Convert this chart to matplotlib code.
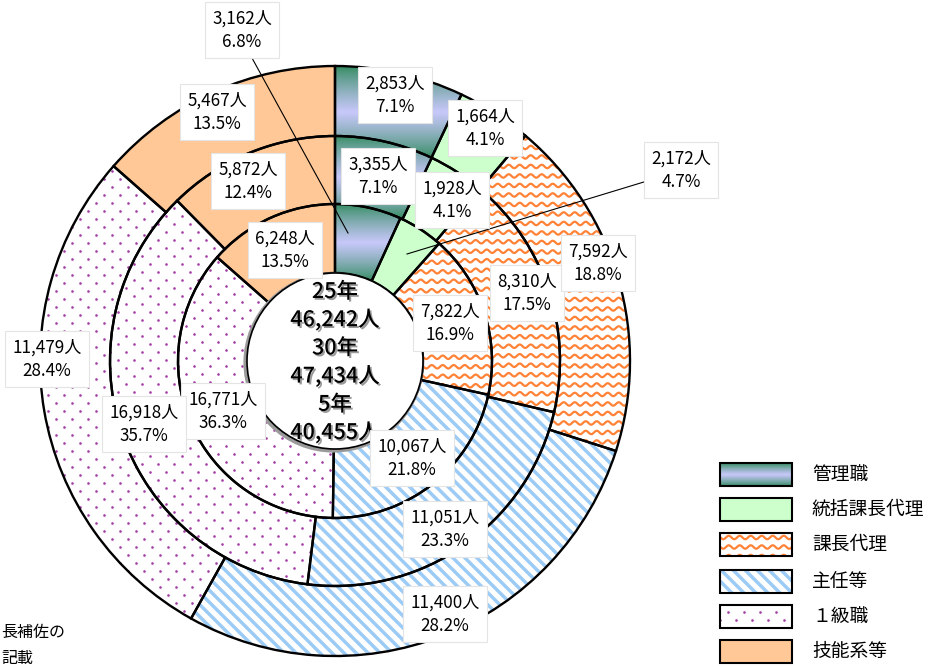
import numpy as np
import matplotlib
matplotlib.use('Agg')
import matplotlib.pyplot as plt
from matplotlib.patches import Rectangle, Circle
from matplotlib.collections import LineCollection
import matplotlib.patheffects as pe

plt.rcParams['font.family'] = ['Noto Sans CJK JP', 'DejaVu Sans']

# ---------------- data ----------------
categories = ['管理職', '統括課長代理', '課長代理', '主任等', '１級職', '技能系等']
years = ['25年', '30年', '5年']
values_h25 = [3162, 2172, 7822, 10067, 16771, 6248]   # inner ring
values_h30 = [3355, 1928, 8310, 11051, 16918, 5872]   # middle ring
values_r5 = [2853, 1664, 7592, 11400, 11479, 5467]    # outer ring
rings = [values_h25, values_h30, values_r5]
footnote = ['長補佐の', '記載']

# ---------------- layout ----------------
W, H = 933, 668
def Y(y):
    return H - y

cx, cy = 335, Y(361)
hole_r = 88
radii = [157, 225, 295]
inner_edges = [hole_r] + radii[:-1]

face_colors = ['#3b9468', '#ccffcc', 'white', 'white', 'white', '#ffc896']
GREEN = np.array([0x2f, 0x8a, 0x5c]) / 255.0
LAV = np.array([0xc8, 0xc8, 0xfa]) / 255.0

# label positions (image px, centre of the two-line block), per ring/category
label_pos = [
    [(242, 30), (681, 170), (450, 323), (412, 458), (223, 411), (285, 250)],
    [(378, 176), (452, 200), (527, 293), (445, 529), (144, 424), (248, 181)],
    [(395, 95), (485, 128), (598, 263), (445, 614), (47, 359), (217, 112)],
]
leaders = [((252, 58), (348, 233)), ((657, 178), (407, 254))]

fig = plt.figure(figsize=(W / 100, H / 100), dpi=100)
ax = fig.add_axes([0, 0, 1, 1])


def add_gradient(patch, x0, x1, y0, y1, z=1.5):
    n = 200
    t = np.linspace(0, 1, n)
    w = np.clip(1 - np.abs(t - 0.5) / 0.5, 0, 1) ** 0.8
    col = GREEN[None, :] * (1 - w[:, None]) + LAV[None, :] * w[:, None]
    img = col[:, None, :]
    im = ax.imshow(img, extent=(x0, x1, y0, y1), origin='upper', aspect='auto',
                   interpolation='bilinear', zorder=z)
    im.set_clip_path(patch)


def add_waves(patch, x0, x1, y0, y1, z=1.5):
    segs = []
    xs = np.arange(x0 - 10, x1 + 10, 0.5)
    for yr in np.arange(y0 - 10, y1 + 10, 9.5):
        segs.append(np.column_stack([xs, yr + 1.7 * np.sin(2 * np.pi * xs / 11.0)]))
    lc = LineCollection(segs, colors='#ff8236', linewidths=1.6, zorder=z)
    ax.add_collection(lc)
    lc.set_clip_path(patch)


def add_stripes(patch, x0, x1, y0, y1, z=1.5):
    segs = []
    for c in np.arange(x0 + y0 - 24, x1 + y1 + 24, 12.0):
        xa, xb = x0 - 24, x1 + 24
        segs.append([(xa, c - xa), (xb, c - xb)])
    lc = LineCollection(segs, colors='#9ccbf6', linewidths=2.5, zorder=z)
    ax.add_collection(lc)
    lc.set_clip_path(patch)


def add_dots(patch, x0, x1, y0, y1, z=1.5):
    pts = []
    for k, yr in enumerate(np.arange(y0 - 8, y1 + 8, 8.0)):
        off = 8.0 if k % 2 else 0.0
        for xr in np.arange(x0 - 16 + off, x1 + 16, 16.0):
            pts.append((xr, yr))
    pts = np.array(pts)
    sc = ax.scatter(pts[:, 0], pts[:, 1], s=3.5, c='#a23aa6', linewidths=0, zorder=z)
    sc.set_clip_path(patch)


pattern_funcs = [add_gradient, None, add_waves, add_stripes, add_dots, None]

for i, vals in enumerate(rings):
    width = radii[i] - inner_edges[i]
    wedges, _ = ax.pie(vals, radius=radii[i], center=(cx, cy), startangle=90,
                       counterclock=False, colors=face_colors,
                       wedgeprops=dict(width=width, edgecolor='none'))
    for j, w in enumerate(wedges):
        w.set_zorder(1)
        f = pattern_funcs[j]
        if f is not None:
            ext = w.get_path().get_extents()
            f(w, ext.x0, ext.x1, ext.y0, ext.y1)
    edges, _ = ax.pie(vals, radius=radii[i], center=(cx, cy), startangle=90,
                      counterclock=False,
                      wedgeprops=dict(width=width, fill=False, edgecolor='black',
                                      linewidth=1.7))
    for w in edges:
        w.set_zorder(3)

# centre hole
ax.add_patch(Circle((cx - 1.5, cy - 1.5), hole_r, fc='white', ec='#9a9a9a', lw=3, zorder=3.8))
ax.add_patch(Circle((cx, cy), hole_r, fc='white', ec='black', lw=1.2, zorder=3.9))

totals = [sum(v) for v in rings]
center_lines = []
for yname, tot in zip(years, totals):
    center_lines += [yname, f'{tot:,}人']
for k, s in enumerate(center_lines):
    ax.text(cx, Y(292 + 28.2 * k), s, ha='center', va='center', fontsize=15.5,
            fontweight='medium', color='black', zorder=4.5,
            path_effects=[pe.withSimplePatchShadow(offset=(1.3, -1.3),
                                                   shadow_rgbFace='#777777', alpha=0.75)])

# value labels
for i, vals in enumerate(rings):
    tot = sum(vals)
    for j, v in enumerate(vals):
        x, y = label_pos[i][j]
        ax.text(x, Y(y), f'{v:,}人\n{v / tot * 100:.1f}%', ha='center', va='center',
                fontsize=12.3, linespacing=1.38, zorder=6,
                bbox=dict(boxstyle='square,pad=0.42', fc='white', ec='#e4e4e4', lw=0.8))

for (p0, p1) in leaders:
    ax.plot([p0[0], p1[0]], [Y(p0[1]), Y(p1[1])], color='black', lw=0.8, zorder=5.5)

# legend
leg_tops = [463, 498, 533, 570, 605, 640]
for j, (name, top) in enumerate(zip(categories, leg_tops)):
    x0, x1 = 720, 792
    y1, y0 = Y(top), Y(top + 23)
    rect = Rectangle((x0, y0), x1 - x0, y1 - y0, fc=face_colors[j], ec='none', zorder=1)
    ax.add_patch(rect)
    f = pattern_funcs[j]
    if f is not None:
        f(rect, x0, x1, y0, y1)
    ax.add_patch(Rectangle((x0, y0), x1 - x0, y1 - y0, fill=False, ec='black', lw=1.5, zorder=3))
    ax.text(812, (y0 + y1) / 2, name, ha='left', va='center', fontsize=13.5, zorder=4)

# footnote fragment at bottom-left
ax.text(1, Y(632), footnote[0], ha='left', va='center', fontsize=11.5)
ax.text(1, Y(658), footnote[1], ha='left', va='center', fontsize=11.5)

ax.set_xlim(0, W)
ax.set_ylim(0, H)
ax.set_aspect('auto')
ax.axis('off')

fig.savefig('out.png', dpi=100)
